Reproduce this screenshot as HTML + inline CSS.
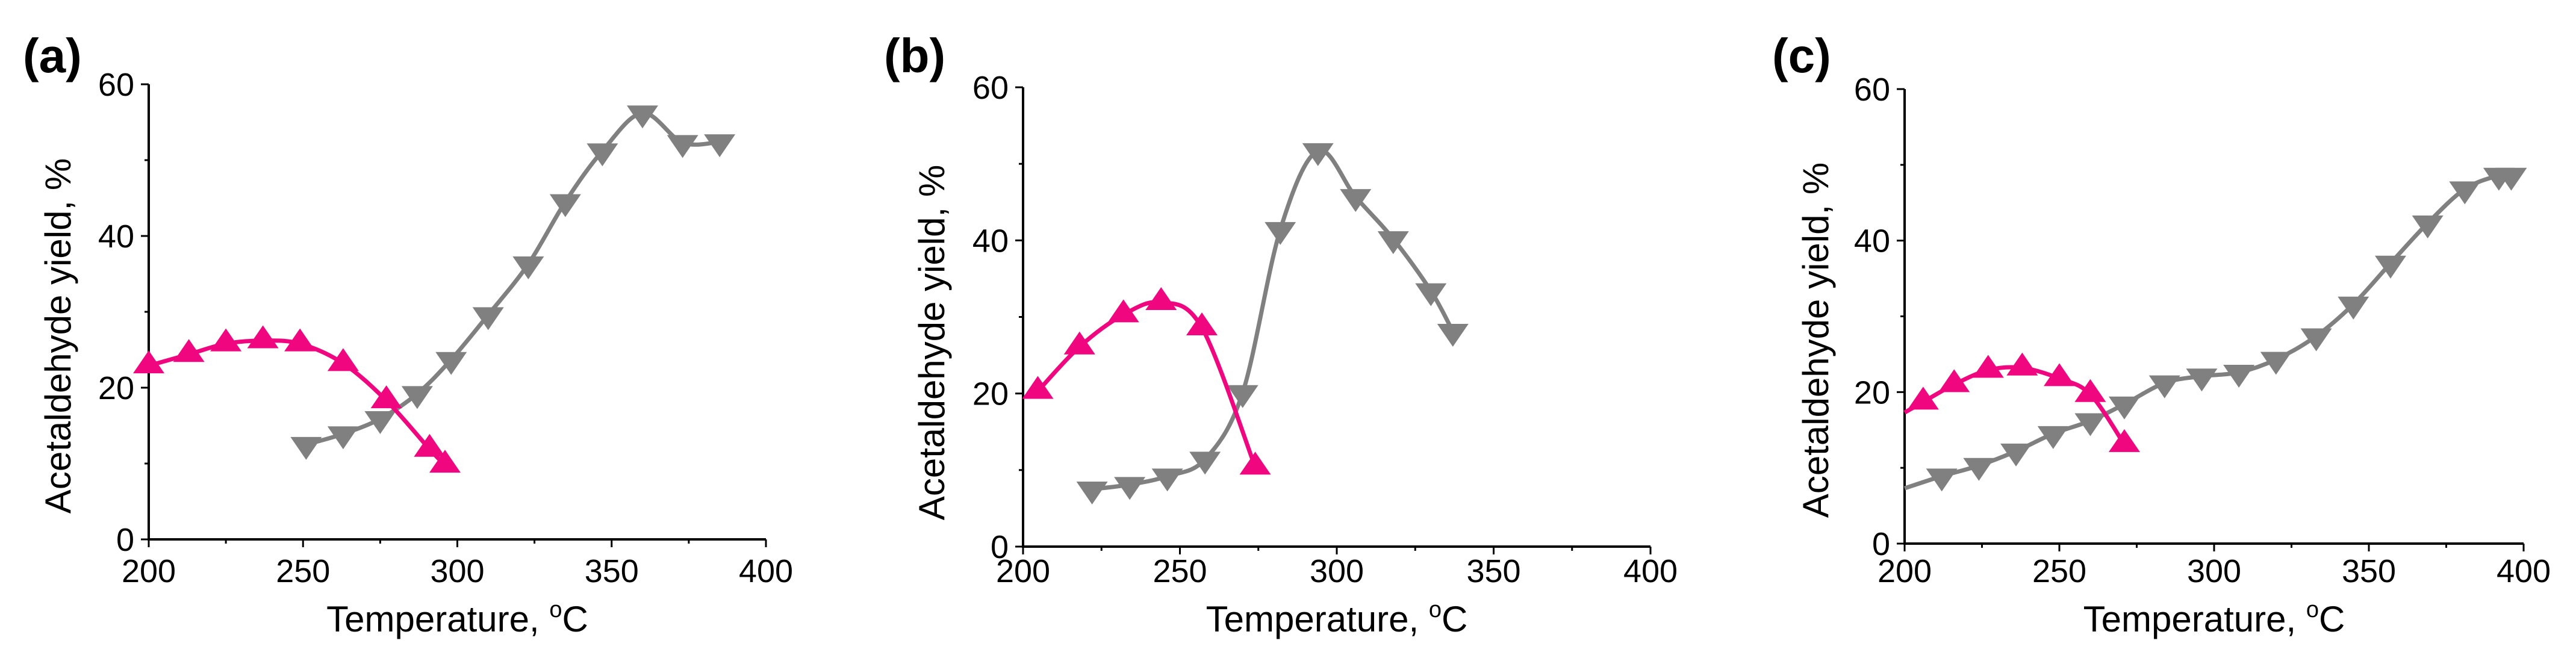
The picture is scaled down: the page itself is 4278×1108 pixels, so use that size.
<!DOCTYPE html>
<html><head><meta charset="utf-8">
<style>
html,body{margin:0;padding:0;background:#fff;}
svg{display:block;font-family:"Liberation Sans",Arial,sans-serif;}
</style></head>
<body>
<svg id="chart" width="4278" height="1108" viewBox="0 0 4278 1108" xmlns="http://www.w3.org/2000/svg"></svg>
<script>
// Panel (a)
const aPinkX = [200,213,225,237,249,263,277,291,296];
const aPinkY = [22.9,24.4,25.8,26.2,25.8,23.2,18.3,11.9,9.8];
const aGrayX = [251,263,275,287,298,310,323,335,347,360,373,385];
const aGrayY = [12.5,13.9,15.9,19.2,23.7,29.6,36.3,44.5,51.2,56.2,52.3,52.4];
// Panel (b)
const bPinkX = [204.7,218,232,244,257,274];
const bPinkY = [20.3,26.1,30.3,31.9,28.6,10.4];
const bGrayX = [222,234,246,258,270,282,294,306,318,330,337];
const bGrayY = [7.5,8.1,9.2,11.4,20.1,41.4,51.7,45.7,40.2,33.4,28.1];
// Panel (c)
const cPinkX = [206,216,227,238,250,260,271];
const cPinkY = [18.7,21.0,22.9,23.2,21.8,19.7,13.1];
const cGrayX = [212,224,236,248,260,271,284,296,308,320,333,345,357,369,381,392,396];
const cGrayY = [8.9,10.3,12.2,14.5,16.2,18.4,21.2,22.1,22.6,24.3,27.4,31.6,37.0,42.3,46.8,48.6,48.6];
// fitted-curve start values (line only, no marker) for panel (c)
const cPinkLeadX = [200];
const cPinkLeadY = [17.3];
const cGrayLeadX = [200];
const cGrayLeadY = [7.3];
const xTicks = [200,250,300,350,400];
const yTicks = [0,20,40,60];
const panelLabels = ["(a)","(b)","(c)"];

const NS = "http://www.w3.org/2000/svg";
const svg = document.getElementById('chart');
function mk(tag, attrs, parent){
  const e = document.createElementNS(NS, tag);
  for (const k in attrs) e.setAttribute(k, attrs[k]);
  (parent||svg).appendChild(e);
  return e;
}
function spline(pts){
  let d = "M"+pts[0][0]+","+pts[0][1];
  for (let i=0;i<pts.length-1;i++){
    const p0=pts[Math.max(0,i-1)], p1=pts[i], p2=pts[i+1], p3=pts[Math.min(pts.length-1,i+2)];
    const c1x=p1[0]+(p2[0]-p0[0])/6, c1y=p1[1]+(p2[1]-p0[1])/6;
    const c2x=p2[0]-(p3[0]-p1[0])/6, c2y=p2[1]-(p3[1]-p1[1])/6;
    d += " C"+c1x+","+c1y+" "+c2x+","+c2y+" "+p2[0]+","+p2[1];
  }
  return d;
}
const panels = [
  {x0:247,x1:1272,yT:140,yB:896,lab:[38,120],yt:[96,558],pink:[aPinkX,aPinkY,[],[]],gray:[aGrayX,aGrayY,[],[]]},
  {x0:1699,x1:2741,yT:145,yB:908,lab:[1468,120],yt:[1547,569],pink:[bPinkX,bPinkY,[],[]],gray:[bGrayX,bGrayY,[],[]]},
  {x0:3163,x1:4191,yT:148,yB:903,lab:[2943,120],yt:[3015,565],pink:[cPinkX,cPinkY,cPinkLeadX,cPinkLeadY],gray:[cGrayX,cGrayY,cGrayLeadX,cGrayLeadY]}
];
const PINK="#f0067f", GRAY="#808080";
panels.forEach((P,pi)=>{
  const g = mk('g',{});
  
  
  const sx = v => P.x0 + (v-200)/200*(P.x1-P.x0);
  const sy = v => P.yB - v/60*(P.yB-P.yT);
  const ax = mk('path',{d:`M${P.x0},${P.yT} V${P.yB} H${P.x1}`,fill:'none',stroke:'#000','stroke-width':4},g);
  
  
  for (let v=200; v<=400; v+=25){
    const major = v%50===0;
    const t = mk('line',{x1:sx(v),x2:sx(v),y1:P.yB,y2:P.yB+(major?13:7),stroke:'#000','stroke-width':3},g);
    
    
  }
  for (let v=0; v<=60; v+=10){
    const major = v%20===0;
    const t = mk('line',{x1:P.x0-(major?13:7),x2:P.x0,y1:sy(v),y2:sy(v),stroke:'#000','stroke-width':3},g);
    
    
  }
  xTicks.forEach(v=>{
    const t = mk('text',{x:sx(v),y:967,'font-size':54,'text-anchor':'middle',fill:'#000'},g);
    t.textContent = v;
    
    
  });
  yTicks.forEach(v=>{
    const t = mk('text',{x:P.x0-24,y:sy(v)+19,'font-size':54,'text-anchor':'end',fill:'#000'},g);
    t.textContent = v;
    
    
  });
  const xt = mk('text',{x:(P.x0+P.x1)/2,y:1049,'font-size':60,'text-anchor':'middle',fill:'#000'},g);
  xt.innerHTML = 'Temperature, <tspan font-size="38" dy="-24">o</tspan><tspan dy="24">C</tspan>';
  
  
  const yt = mk('text',{x:0,y:0,'font-size':60,'text-anchor':'middle',fill:'#000',transform:`translate(${P.yt[0]+21},${P.yt[1]}) rotate(-90)`},g);
  yt.textContent = 'Acetaldehyde yield, %';
  
  
  const pl = mk('text',{x:P.lab[0],y:P.lab[1],'font-size':80,'font-weight':'bold',fill:'#000'},g);
  pl.textContent = panelLabels[pi];
  
  
  [[P.gray,GRAY,false,'gray'],[P.pink,PINK,true,'pink']].forEach(([s,col,up,nm])=>{
    const pts = s[0].map((x,i)=>[sx(x),sy(s[1][i])]);
    const lead = s[2].map((x,i)=>[sx(x),sy(s[3][i])]);
    const ln = mk('path',{d:spline(lead.concat(pts)),fill:'none',stroke:col,'stroke-width':7},g);
    
    
    pts.forEach(p=>{
      const w=26, h=38;
      const d = up ? `M${p[0]},${p[1]-h*2/3} L${p[0]+w},${p[1]+h/3} L${p[0]-w},${p[1]+h/3}Z`
                   : `M${p[0]},${p[1]+h*2/3} L${p[0]+w},${p[1]-h/3} L${p[0]-w},${p[1]-h/3}Z`;
      const m = mk('path',{d:d,fill:col},g);
      
      
    });
  });
});
</script>
</body></html>
